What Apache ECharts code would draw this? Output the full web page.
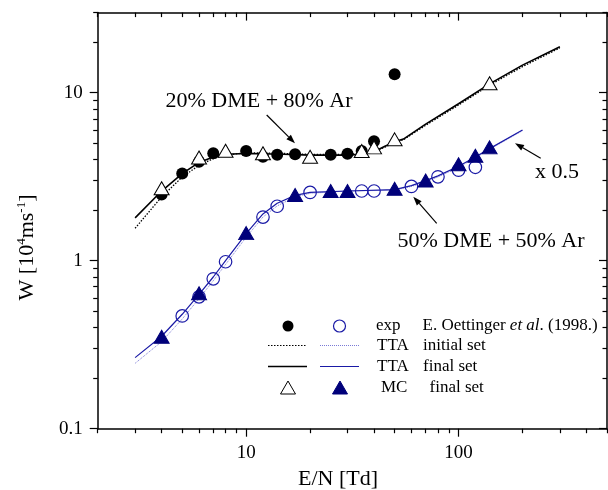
<!DOCTYPE html>
<html><head><meta charset="utf-8">
<script src="https://cdn.jsdelivr.net/npm/echarts@6/dist/echarts.min.js"></script>
<style>html,body{margin:0;padding:0;background:#fff}#c{width:608px;height:490px}</style>
</head><body><div id="c"></div>
<script>
// ---- tick values ----
const xMajorTicks = [10, 100];
const xMinorTicks = [2,3,4,5,6,7,8,9,20,30,40,50,60,70,80,90,200,300,400,500];
const yMajorTicks = [0.1, 1, 10];
const yMinorTicks = [0.2,0.3,0.4,0.5,0.6,0.7,0.8,0.9,2,3,4,5,6,7,8,9,20,30];

// ---- 20% DME + 80% Ar ----
const expE_20 = [4,5,6,7,10,12,14,17,25,30,35,40,50];
const expW_20 = [2.48,3.31,3.88,4.36,4.5,4.16,4.28,4.3,4.28,4.33,4.5,5.14,12.9];
const mcE_20 = [4,6,8,12,20,35,40,50,140];
const mcW_20 = [2.7,4.12,4.52,4.36,4.16,4.5,4.73,5.28,11.4];
const ttaE_20 = [3,4,5,6,7,8,10,15,20,30,35,40,45,50,55,70,100,140,200,300];
const ttaFinalW_20 = [1.8,2.6,3.3,3.85,4.15,4.3,4.35,4.3,4.25,4.25,4.3,4.45,4.8,5.1,5.3,6.5,8.6,11.3,14.6,18.8];
const ttaInitW_20 = [1.56,2.4,3.15,3.7,4.05,4.25,4.4,4.35,4.3,4.3,4.35,4.45,4.75,5.05,5.25,6.4,8.45,11.1,14.3,18.5];

// ---- 50% DME + 50% Ar (x 0.5) ----
const expE_50 = [5,6,7,8,12,14,20,35,40,60,80,100,120];
const expW_50 = [0.469,0.61,0.78,0.986,1.82,2.11,2.55,2.6,2.6,2.77,3.16,3.46,3.6];
const mcE_50 = [4,6,10,17,25,30,50,70,100,120,140];
const mcW_50 = [0.353,0.64,1.46,2.46,2.6,2.6,2.68,3.0,3.75,4.22,4.73];
const ttaE_50 = [3,4,5,6,7,8,10,12,14,17,20,30,50,60,70,80,100,120,140,200];
const ttaFinalW_50 = [0.265,0.355,0.48,0.63,0.8,1.0,1.45,1.9,2.2,2.45,2.55,2.6,2.65,2.8,3.0,3.2,3.65,4.15,4.65,6.0];
const ttaInitW_50 = [0.245,0.33,0.45,0.595,0.76,0.95,1.38,1.82,2.12,2.4,2.52,2.6,2.63,2.77,2.95,3.15,3.6,4.1,4.6,5.95];

const FONT = '"Liberation Serif", "Times New Roman", serif';
const BLUE = '#1a1aa6', NAVY = '#00007a', LBLUE = '#7a7ad6';
const zip = (a, b) => a.map((v, i) => [v, b[i]]);

function axis(kind, pos, ticks, len, inside, showLine, labels) {
  const a = {
    type: 'log', logBase: 10, position: pos,
    min: kind === 'x' ? 2 : 0.1, max: kind === 'x' ? 500 : 30,
    splitLine: {show: false}, minorTick: {show: false}, minorSplitLine: {show: false},
    axisLine: {show: showLine, onZero: false, lineStyle: {color: '#000', width: 1.5}},
    axisTick: {show: true, inside: inside, length: len, customValues: ticks, lineStyle: {color: '#000', width: 1.2}},
    axisLabel: labels ? {show: true, customValues: labels, color: '#000', fontFamily: FONT, fontSize: 19,
      margin: kind === 'x' ? 15 : 15, formatter: v => String(v)} : {show: false},
    silent: true, axisPointer: {show: false}
  };
  return a;
}

const chart = echarts.init(document.getElementById('c'), null, {renderer: 'canvas'});

function arrow(x1, y1, x2, y2) {
  const ang = Math.atan2(y2 - y1, x2 - x1), L = 9, W = 3.2;
  const bx = x2 - L * Math.cos(ang), by = y2 - L * Math.sin(ang);
  const px = -Math.sin(ang) * W, py = Math.cos(ang) * W;
  return [
    {type: 'line', silent: true, shape: {x1, y1, x2: bx, y2: by}, style: {stroke: '#000', lineWidth: 1.2}},
    {type: 'polygon', silent: true, shape: {points: [[x2, y2], [bx + px, by + py], [bx - px, by - py]]}, style: {fill: '#000'}}
  ];
}
function txt(x, y, text, size, align, extra) {
  return Object.assign({type: 'text', silent: true, x, y, style: {text, fill: '#000', font: size + 'px ' + FONT,
    textAlign: align || 'left', textVerticalAlign: 'middle'}}, extra || {});
}
function tri(cx, cy, w, h, fill, stroke) {
  return {type: 'polygon', silent: true, shape: {points: [[cx, cy - h/2], [cx + w/2, cy + h/2], [cx - w/2, cy + h/2]]},
    style: {fill, stroke, lineWidth: 1}};
}

const graphics = [].concat(
  arrow(266.7, 115, 295, 143.3),
  arrow(436.7, 223.3, 413.3, 196.7),
  arrow(540.7, 158.3, 515, 143.3),
  [
    txt(259, 101.5, '20% DME + 80% Ar', 22, 'center'),
    txt(491, 241.5, '50% DME + 50% Ar', 22, 'center'),
    txt(557, 172.5, 'x 0.5', 22, 'center'),
    txt(338, 479, 'E/N [Td]', 22, 'center'),
    {type: 'text', silent: true, x: 27, y: 247.5, rotation: Math.PI / 2,
      style: {text: '{n|W [10}{s|4}{n|ms}{s|-1}{n|]}', textAlign: 'center', textVerticalAlign: 'middle', fill: '#000',
        rich: {n: {fontFamily: FONT, fontSize: 22, fill: '#000', lineHeight: 24},
               s: {fontFamily: FONT, fontSize: 13, fill: '#000', verticalAlign: 'top', lineHeight: 24}}}},
    // legend
    {type: 'circle', silent: true, shape: {cx: 288, cy: 326, r: 5.5}, style: {fill: '#000'}},
    {type: 'circle', silent: true, shape: {cx: 339.5, cy: 326, r: 6}, style: {fill: 'none', stroke: BLUE, lineWidth: 1.2}},
    txt(376, 326, 'exp', 17),
    {type: 'text', silent: true, x: 422.5, y: 326,
      style: {text: '{a|E. Oettinger }{i|et al}{a|. (1998.)}', textVerticalAlign: 'middle', fill: '#000',
        rich: {a: {fontFamily: FONT, fontSize: 17, fill: '#000'}, i: {fontFamily: FONT, fontSize: 17, fontStyle: 'italic', fill: '#000'}}}},
    {type: 'line', silent: true, shape: {x1: 268, y1: 345.5, x2: 307, y2: 345.5}, style: {stroke: '#000', lineWidth: 1.2, lineDash: [1.5, 1.5]}},
    {type: 'line', silent: true, shape: {x1: 320, y1: 345.5, x2: 359, y2: 345.5}, style: {stroke: LBLUE, lineWidth: 1, lineDash: [1, 1]}},
    txt(377, 345.5, 'TTA', 17), txt(423, 345.5, 'initial set', 17),
    {type: 'line', silent: true, shape: {x1: 268, y1: 366.5, x2: 307, y2: 366.5}, style: {stroke: '#000', lineWidth: 1.6}},
    {type: 'line', silent: true, shape: {x1: 320, y1: 366.5, x2: 359, y2: 366.5}, style: {stroke: BLUE, lineWidth: 1.2}},
    txt(377, 366.5, 'TTA', 17), txt(423, 366.5, 'final set', 17),
    tri(288, 387.5, 15, 13, '#fff', '#000'),
    tri(340, 387.5, 15, 13, NAVY, NAVY),
    txt(381, 387.5, 'MC', 17), txt(429.5, 387.5, 'final set', 17)
  ]
);

function lineS(name, e, w, color, width, type) {
  return {type: 'line', name, data: zip(e, w), showSymbol: false, symbol: 'none', smooth: false, silent: true,
    lineStyle: {color, width, type}, emphasis: {disabled: true}, xAxisIndex: 0, yAxisIndex: 0, z: 2};
}
function scat(name, e, w, symbol, size, fill, stroke, bw, z) {
  return {type: 'scatter', name, data: zip(e, w), symbol, symbolSize: size, silent: true,
    itemStyle: {color: fill, borderColor: stroke, borderWidth: bw, opacity: 1}, emphasis: {disabled: true},
    xAxisIndex: 0, yAxisIndex: 0, z};
}

chart.setOption({
  animation: false,
  backgroundColor: '#fff',
  grid: {left: 97.7, right: 1, top: 12.6, bottom: 61.3, containLabel: false, outerBoundsMode: 'none'},
  xAxis: [
    axis('x', 'bottom', xMajorTicks, 8, false, true, xMajorTicks),
    axis('x', 'bottom', xMinorTicks, 4.5, false, false, null),
    axis('x', 'top', xMajorTicks, 8, true, true, null),
    axis('x', 'top', xMinorTicks, 4.5, true, false, null)
  ],
  yAxis: [
    axis('y', 'left', yMajorTicks, 8, false, true, yMajorTicks),
    axis('y', 'left', yMinorTicks, 4.5, false, false, null),
    axis('y', 'right', yMajorTicks, 8, true, true, null),
    axis('y', 'right', yMinorTicks, 4.5, true, false, null)
  ],
  series: [
    lineS('TTA initial 20', ttaE_20, ttaInitW_20, '#000', 1.3, [1.5, 1.5]),
    lineS('TTA final 20', ttaE_20, ttaFinalW_20, '#000', 1.6, 'solid'),
    lineS('TTA initial 50', ttaE_50, ttaInitW_50, LBLUE, 1, [1, 1]),
    lineS('TTA final 50', ttaE_50, ttaFinalW_50, BLUE, 1.2, 'solid'),
    scat('exp 20', expE_20, expW_20, 'circle', 12, '#000', '#000', 0, 3),
    scat('exp 50', expE_50, expW_50, 'circle', 12.5, 'rgba(0,0,0,0)', BLUE, 1.2, 3),
    scat('MC 20', mcE_20, mcW_20, 'triangle', [15, 13], '#fff', '#000', 1, 4),
    scat('MC 50', mcE_50, mcW_50, 'triangle', [15, 13], NAVY, NAVY, 1, 4)
  ],
  graphic: {elements: graphics}
});
</script></body></html>
